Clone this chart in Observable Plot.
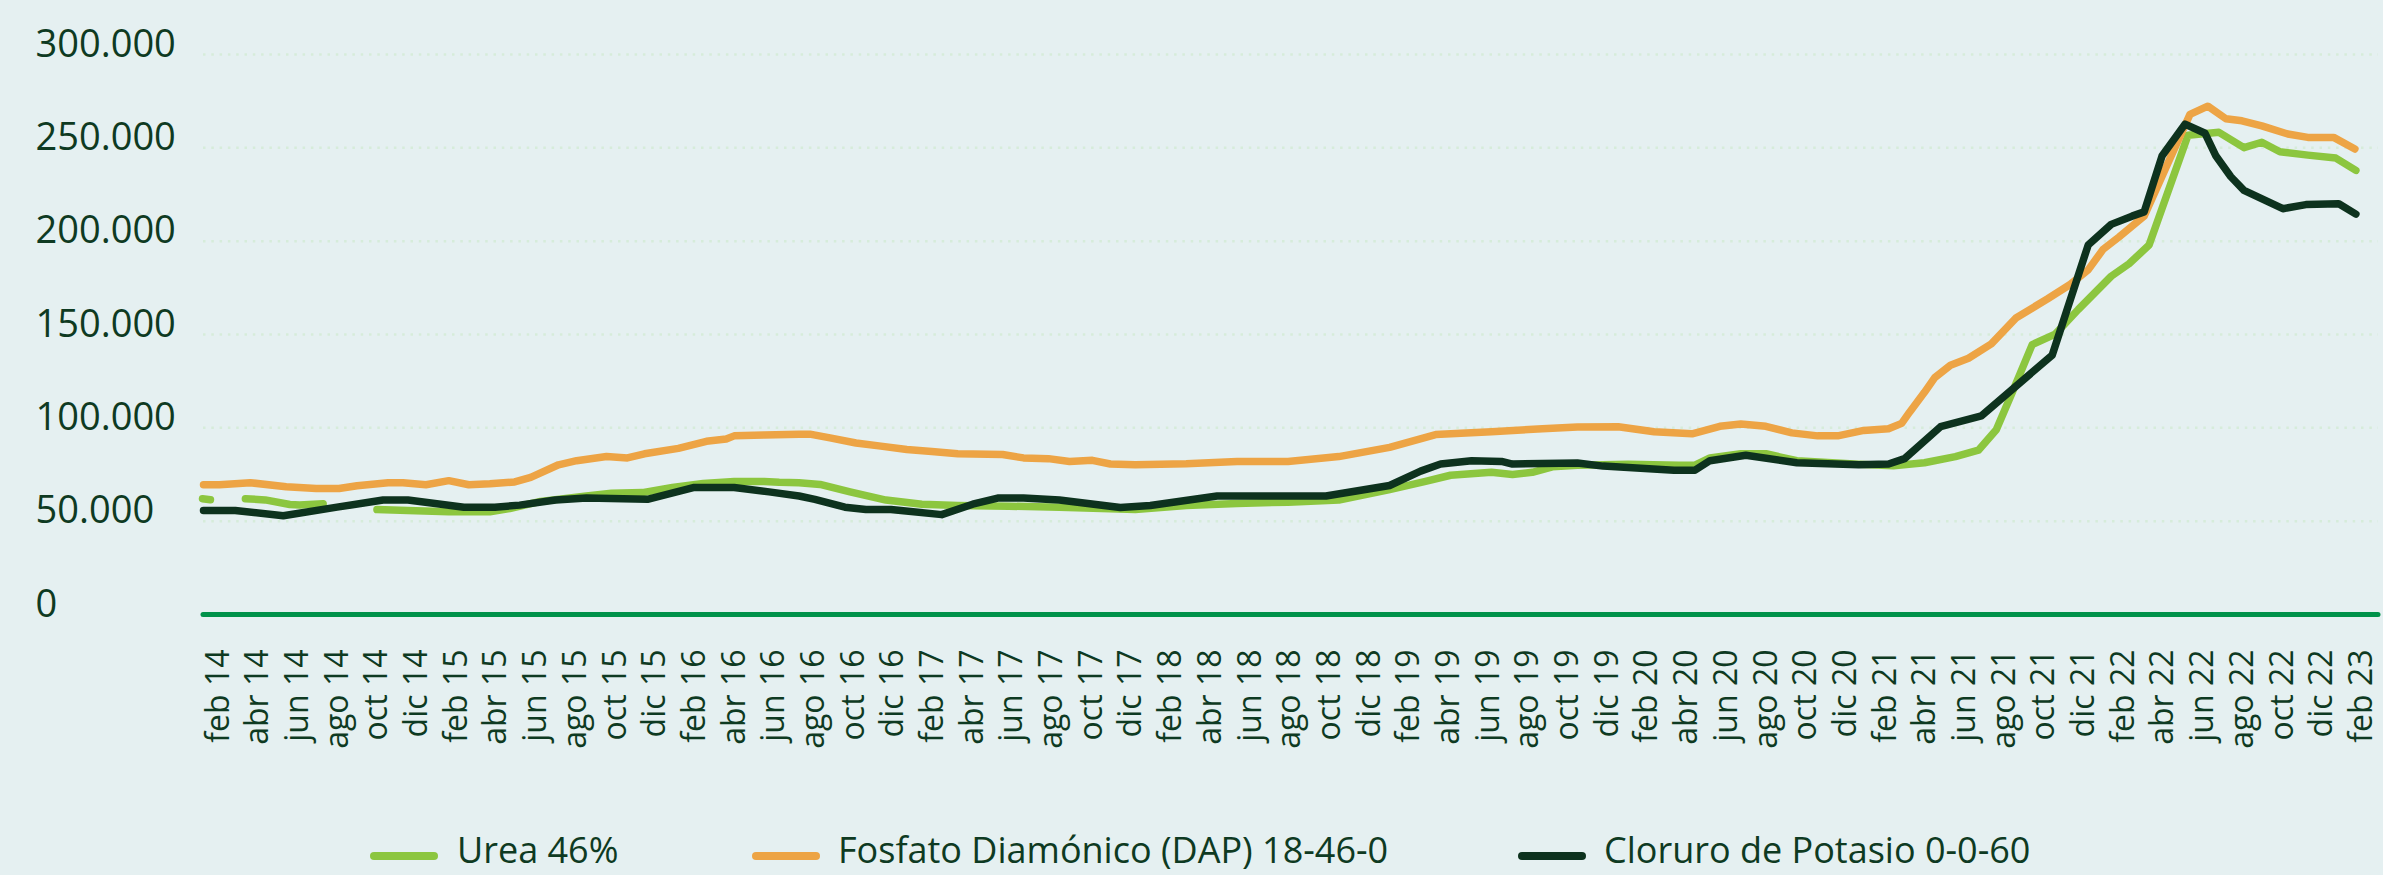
<!DOCTYPE html>
<html><head><meta charset="utf-8">
<script src="https://cdn.jsdelivr.net/npm/d3@7"></script>
<script src="https://cdn.jsdelivr.net/npm/@observablehq/plot@0.6"></script>
<style>
html,body{margin:0;padding:0;background:#e5f0f1;}
#chart{width:2383px;height:875px;position:relative;overflow:hidden;background:#e5f0f1;font-family:"Open Sans",sans-serif;color:#0e3a22;}
#chart svg{display:block;}
#legend{position:relative;height:55px;}
.sw{position:absolute;top:32px;height:8px;border-radius:4px;width:68px;}
.lb{position:absolute;top:12px;font-size:36px;line-height:36px;white-space:nowrap;color:#0e3a22;}
</style></head><body><div id="chart"></div>
<script>
// x = months since Jan 2014 (feb 14 = 1 ... feb 23 = 109)
const etiquetasX = ["feb 14","abr 14","jun 14","ago 14","oct 14","dic 14",
"feb 15","abr 15","jun 15","ago 15","oct 15","dic 15",
"feb 16","abr 16","jun 16","ago 16","oct 16","dic 16",
"feb 17","abr 17","jun 17","ago 17","oct 17","dic 17",
"feb 18","abr 18","jun 18","ago 18","oct 18","dic 18",
"feb 19","abr 19","jun 19","ago 19","oct 19","dic 19",
"feb 20","abr 20","jun 20","ago 20","oct 20","dic 20",
"feb 21","abr 21","jun 21","ago 21","oct 21","dic 21",
"feb 22","abr 22","jun 22","ago 22","oct 22","dic 22",
"feb 23"];
const xTicks = etiquetasX.map((_, i) => 1 + 2 * i);
const yTicks = [0, 50000, 100000, 150000, 200000, 250000, 300000];

const series = ["Urea 46%", "Fosfato Diamónico (DAP) 18-46-0", "Cloruro de Potasio 0-0-60"];
const colores = ["#8cc63f", "#eda445", "#0d321e"];

const urea = [[0.2,62000],[0.6,61500],[1.4,null],[2.36,62000],[3.36,61400],[4.6,58900],[5.1,58600],[6.28,59300],[7.5,null],
[8.99,56200],[10.55,55700],[12.61,55000],[14.68,55000],[15.68,56800],[17.24,60600],[19.55,63500],[20.81,65000],[22.37,65300],
[23.88,68000],[25.43,70200],[26.99,71300],[28.5,71300],[29.26,70800],[30.26,70600],[31.32,69700],[32.83,65700],[34.64,61300],
[36.45,59100],[38.26,58400],[40.82,58000],[43.38,57500],[47.2,56200],[49.77,58400],[52.33,59500],[54.9,60200],[57.46,61300],
[60.02,66900],[61.83,71300],[63.09,74600],[65.15,76200],[66.21,75000],[67.21,76200],[68.22,79100],[69.48,80000],[72.04,80500],
[74.6,80000],[75.41,80000],[76.16,83900],[77.72,86100],[78.98,86100],[80.54,82400],[83.65,80500],[85.41,79700],[86.97,81300],
[88.53,84600],[89.69,88000],[90.59,99000],[91.35,117900],[92.4,144600],[93.56,150200],[94.72,163400],[96.38,181200],
[97.28,187900],[98.29,197900],[100.25,256700],[101.81,258300],[103.07,250100],[103.97,253000],[104.88,247900],[106.29,246100],
[107.7,244500],[108.71,237900]];

const dap = [[0.25,69500],[1.05,69500],[2.61,70600],[4.42,68400],[5.93,67500],[7.08,67500],[7.99,69000],[9.55,70600],[10.3,70600],
[11.46,69500],[12.61,71700],[13.62,69500],[14.68,70000],[15.93,71000],[16.74,73500],[18.14,80200],[19.05,82400],[20.56,84600],
[21.61,83900],[22.47,86100],[24.18,89000],[25.59,92800],[26.59,94000],[26.99,95700],[28.5,96200],[30.26,96600],[30.81,96600],
[31.82,94600],[33.13,91900],[34.38,90200],[35.69,88400],[36.95,87300],[38.26,86100],[40.52,85700],[41.57,83900],[42.83,83500],
[43.89,82000],[45.04,82600],[45.95,80600],[47.2,80200],[49.77,80800],[52.33,82000],[54.9,82000],[57.46,84600],[60.02,89500],
[62.34,96400],[65.15,97900],[67.72,99500],[69.48,100400],[71.54,100600],[73.35,97900],[75.26,96800],[76.66,100800],[77.72,102000],
[78.98,100800],[80.29,97300],[81.59,95700],[82.6,95700],[83.91,98600],[85.16,99500],[85.82,102400],[86.22,108400],[86.97,119000],
[87.48,126800],[88.28,133500],[89.19,137300],[90.34,145000],[91.6,159000],[93.16,169000],[94.31,176800],[95.22,184600],
[95.97,195600],[96.78,202300],[98.04,213400],[99.35,244500],[100.35,267900],[101.25,272300],[102.16,265600],[102.97,264500],
[103.97,261800],[105.28,257400],[106.29,255600],[107.59,255600],[108.66,249400]];

const kcl = [[0.25,55700],[1.85,55700],[4.27,52900],[6.98,57500],[9.3,61300],[10.55,61300],[13.37,57500],[14.93,57500],[16.18,58600],
[17.99,61300],[19.55,62400],[22.62,61700],[24.93,68000],[26.99,68000],[28.75,65700],[30.26,63500],[31.06,61700],[32.57,57500],
[33.63,56200],[34.89,56200],[37.45,53500],[39.01,59100],[40.27,62400],[41.57,62400],[43.38,61300],[46.45,57300],[47.96,58400],
[51.33,63500],[53.64,63500],[56.81,63500],[60.02,69100],[61.58,76800],[62.59,80600],[64.15,82400],[65.66,82000],[66.21,80600],
[69.48,81200],[70.78,79500],[74.35,77300],[75.41,77300],[76.16,82400],[77.97,85300],[80.54,81300],[83.65,80200],[85.16,80600],
[85.97,83500],[87.78,100600],[89.84,106400],[93.41,139000],[95.22,197900],[96.38,209000],[97.43,213400],[98.04,215700],
[98.94,245600],[100.1,262700],[101.11,257800],[101.66,245600],[102.41,234500],[103.07,227200],[105.03,217400],[106.19,219600],
[107.85,220000],[108.71,214500]];

const toRows = arr => arr.map(([mes, valor]) => ({mes, valor}));
const fmt = d => d === 0 ? "0" : d3.format(",")(d).replace(/,/g, ".");
const ink = "#0e3a22";
const lineOpts = (c) => ({x: "mes", y: "valor", stroke: c, strokeWidth: 7.5, strokeLinecap: "round", strokeLinejoin: "round"});

const svg = Plot.plot({
  width: 2383, height: 820,
  marginLeft: 203, marginRight: 5, marginTop: 54, marginBottom: 206,
  style: {background: "#e5f0f1", fontFamily: "'Open Sans', sans-serif", color: ink, overflow: "visible"},
  x: {type: "linear", domain: [0.25, 109.85], label: null},
  y: {domain: [0, 300000], label: null},
  marks: [
    Plot.ruleY(yTicks.filter(d => d > 0), {stroke: "#d6ecda", strokeWidth: 2.5, strokeDasharray: "2.5,5.8"}),
    Plot.axisY(yTicks, {anchor: "left", tickSize: 0, tickPadding: 0, textAnchor: "start", dx: -168, dy: -10, fontSize: 38, tickFormat: fmt, fill: ink, label: null}),
    Plot.axisX(xTicks, {anchor: "bottom", tickSize: 0, tickPadding: 35, tickRotate: -90, textAnchor: "end", fontSize: 32, tickFormat: d => etiquetasX[(d - 1) / 2], fill: ink, label: null}),
    Plot.ruleY([0], {stroke: "#00924a", strokeWidth: 5, strokeLinecap: "round"}),
    Plot.line(toRows(urea), lineOpts(colores[0])),
    Plot.line(toRows(dap), lineOpts(colores[1])),
    Plot.line(toRows(kcl), lineOpts(colores[2]))
  ]
});
const chart = document.getElementById("chart");
chart.appendChild(svg);

const legend = document.createElement("div");
legend.id = "legend";
const swLeft = [370, 752, 1518];
const lbLeft = [457, 838, 1604];
series.forEach((s, i) => {
  const sw = document.createElement("div");
  sw.className = "sw"; sw.style.left = swLeft[i] + "px"; sw.style.background = colores[i];
  const lb = document.createElement("div");
  lb.className = "lb"; lb.style.left = lbLeft[i] + "px"; lb.textContent = s;
  legend.appendChild(sw); legend.appendChild(lb);
});
chart.appendChild(legend);
</script></body></html>
